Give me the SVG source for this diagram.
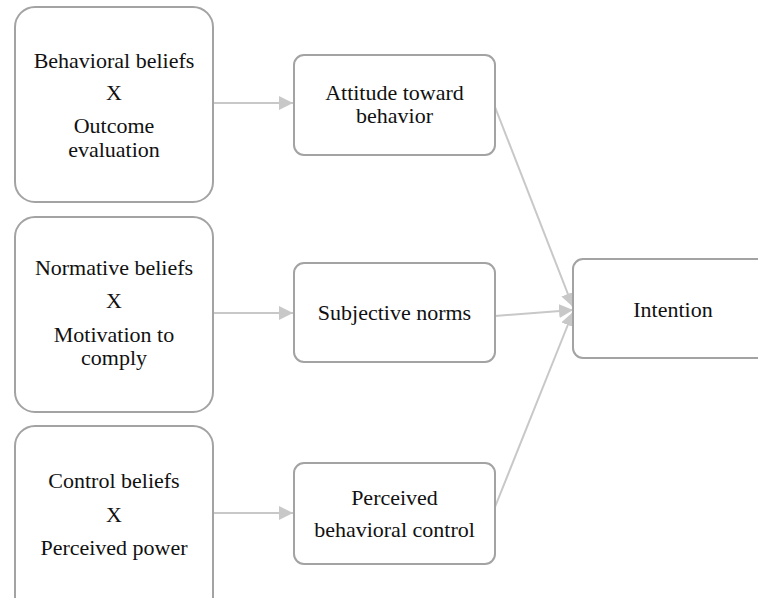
<svg xmlns="http://www.w3.org/2000/svg" width="758" height="598" viewBox="0 0 758 598">
<defs>
<marker id="ah" viewBox="0 0 10 10" refX="10" refY="5" markerWidth="14" markerHeight="14" markerUnits="userSpaceOnUse" orient="auto">
<path d="M0,0 L10,5 L0,10 z" fill="#c8c8c8"/>
</marker>
</defs>
<rect width="758" height="598" fill="#fff"/>
<g id="connectors" stroke="#c8c8c8" stroke-width="2" fill="none">
<line x1="214" y1="103" x2="293" y2="103" marker-end="url(#ah)"/>
<line x1="214" y1="313" x2="293" y2="313" marker-end="url(#ah)"/>
<line x1="214" y1="513" x2="293" y2="513" marker-end="url(#ah)"/>
<line x1="495" y1="107" x2="573" y2="307" marker-end="url(#ah)"/>
<line x1="495" y1="316" x2="573" y2="310" marker-end="url(#ah)"/>
<line x1="495" y1="507" x2="573" y2="312" marker-end="url(#ah)"/>
</g>
<g id="behavioral">
<rect x="15" y="7" width="198" height="195" rx="20" fill="#fff" stroke="#a3a3a3" stroke-width="2"/>
<text x="114" y="68" style="font-family:'Times New Roman',serif;font-size:22px" fill="#111" text-anchor="middle">Behavioral beliefs</text>
<text x="114" y="100" style="font-family:'Times New Roman',serif;font-size:22px" fill="#111" text-anchor="middle">X</text>
<text x="114" y="133" style="font-family:'Times New Roman',serif;font-size:22px" fill="#111" text-anchor="middle">Outcome</text>
<text x="114" y="157" style="font-family:'Times New Roman',serif;font-size:22px" fill="#111" text-anchor="middle">evaluation</text>
</g>
<g id="normative">
<rect x="15" y="217" width="198" height="195" rx="20" fill="#fff" stroke="#a3a3a3" stroke-width="2"/>
<text x="114" y="275" style="font-family:'Times New Roman',serif;font-size:22px" fill="#111" text-anchor="middle">Normative beliefs</text>
<text x="114" y="308" style="font-family:'Times New Roman',serif;font-size:22px" fill="#111" text-anchor="middle">X</text>
<text x="114" y="342" style="font-family:'Times New Roman',serif;font-size:22px" fill="#111" text-anchor="middle">Motivation to</text>
<text x="114" y="365" style="font-family:'Times New Roman',serif;font-size:22px" fill="#111" text-anchor="middle">comply</text>
</g>
<g id="control">
<rect x="15" y="426" width="198" height="195" rx="20" fill="#fff" stroke="#a3a3a3" stroke-width="2"/>
<text x="114" y="488" style="font-family:'Times New Roman',serif;font-size:22px" fill="#111" text-anchor="middle">Control beliefs</text>
<text x="114" y="522" style="font-family:'Times New Roman',serif;font-size:22px" fill="#111" text-anchor="middle">X</text>
<text x="114" y="555" style="font-family:'Times New Roman',serif;font-size:22px" fill="#111" text-anchor="middle">Perceived power</text>
</g>
<g id="attitude">
<rect x="294" y="55" width="201" height="100" rx="10" fill="#fff" stroke="#a3a3a3" stroke-width="2"/>
<text x="394.5" y="100" style="font-family:'Times New Roman',serif;font-size:22px" fill="#111" text-anchor="middle">Attitude toward</text>
<text x="394.5" y="123" style="font-family:'Times New Roman',serif;font-size:22px" fill="#111" text-anchor="middle">behavior</text>
</g>
<g id="subjective">
<rect x="294" y="263" width="201" height="99" rx="10" fill="#fff" stroke="#a3a3a3" stroke-width="2"/>
<text x="394.5" y="320" style="font-family:'Times New Roman',serif;font-size:22px" fill="#111" text-anchor="middle">Subjective norms</text>
</g>
<g id="pbc">
<rect x="294" y="463" width="201" height="101" rx="10" fill="#fff" stroke="#a3a3a3" stroke-width="2"/>
<text x="394.5" y="505" style="font-family:'Times New Roman',serif;font-size:22px" fill="#111" text-anchor="middle">Perceived</text>
<text x="394.5" y="537" style="font-family:'Times New Roman',serif;font-size:22px" fill="#111" text-anchor="middle">behavioral control</text>
</g>
<g id="intention">
<rect x="573" y="259" width="200" height="99" rx="10" fill="#fff" stroke="#a3a3a3" stroke-width="2"/>
<text x="673" y="317" style="font-family:'Times New Roman',serif;font-size:22px" fill="#111" text-anchor="middle">Intention</text>
</g>
</svg>
